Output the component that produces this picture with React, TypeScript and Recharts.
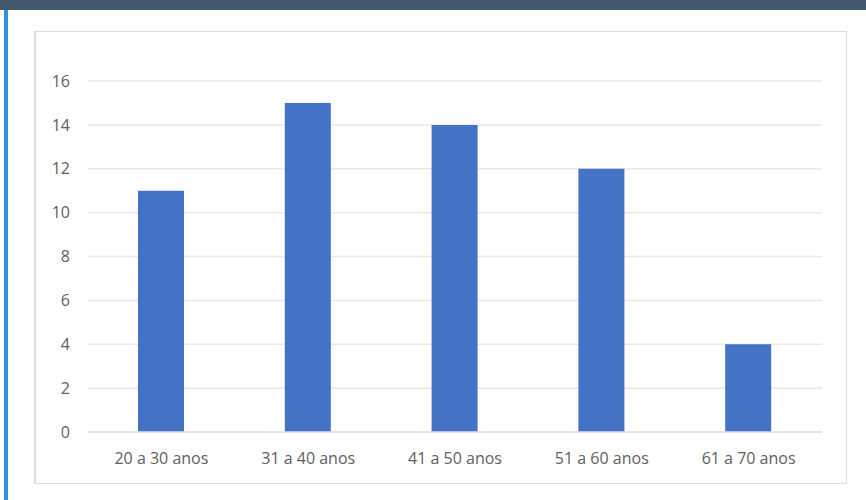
import React from "react";
import { BarChart, Bar, XAxis, YAxis, CartesianGrid } from "recharts";

const categories = ["20 a 30 anos", "31 a 40 anos", "41 a 50 anos", "51 a 60 anos", "61 a 70 anos"];
const values = [11, 15, 14, 12, 4];
const yTicks = [0, 2, 4, 6, 8, 10, 12, 14, 16];

const data = categories.map((c, i) => ({ name: c, value: values[i] }));

export default function App() {
  return (
    <div style={{ position: "absolute", left: 0, top: 0, width: 866, height: 500, background: "#fff", overflow: "hidden" }}>
      <div style={{ position: "absolute", left: 0, top: 0, width: 866, height: 10, background: "#44586E" }} />
      <div style={{ position: "absolute", left: 4, top: 10, width: 4, height: 490, background: "#2E92D8" }} />
      <div style={{ position: "absolute", left: 34, top: 31, width: 810, height: 451, border: "1px solid #DDDDDD", borderLeftWidth: 2 }} />
      <div style={{ position: "absolute", left: 0, top: 0 }}>
        <BarChart width={866} height={500} data={data} margin={{ top: 81, right: 44, bottom: 38, left: 48 }} barSize={46}>
          <CartesianGrid vertical={false} stroke="#E8E8E8" strokeWidth={1.5} />
          <XAxis
            dataKey="name"
            height={30}
            axisLine={{ stroke: "#E0E0E0", strokeWidth: 1.5 }}
            tickLine={false}
            tickSize={0}
            tickMargin={21}
            tick={{ fill: "#606060", fontSize: 16, fontFamily: "Open Sans" }}
            interval={0}
          />
          <YAxis
            width={40}
            domain={[0, 16]}
            ticks={yTicks}
            axisLine={false}
            tickLine={false}
            tickSize={0}
            tickMargin={18}
            tick={{ fill: "#606060", fontSize: 16, fontFamily: "Open Sans" }}
            interval={0}
          />
          <Bar dataKey="value" fill="#4472C4" isAnimationActive={false} />
        </BarChart>
      </div>
    </div>
  );
}
